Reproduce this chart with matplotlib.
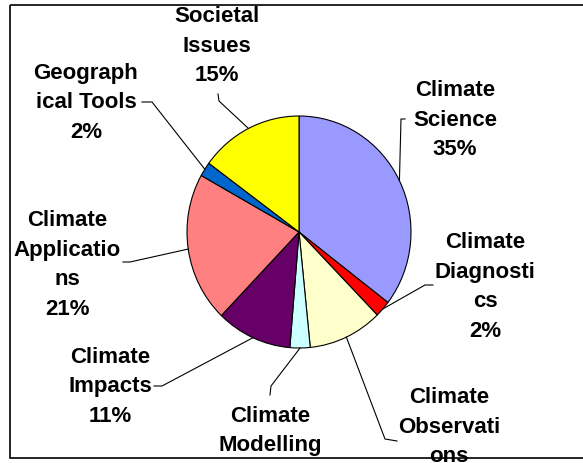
import numpy as np
import matplotlib.pyplot as plt
from matplotlib.patches import Rectangle

plt.rcParams['font.family'] = ['Liberation Sans', 'DejaVu Sans']

# data, clockwise from 12 o'clock
names = ['Climate\nScience', 'Climate\nDiagnosti\ncs', 'Climate\nObservati\nons',
         'Climate\nModelling', 'Climate\nImpacts', 'Climate\nApplicatio\nns',
         'Geograph\nical Tools', 'Societal\nIssues']
values = [35.4, 2.3, 10.7, 2.9, 10.9, 20.9, 2.0, 14.9]
colors = ['#9999FF', '#FF0000', '#FFFFCC', '#CCFFFF', '#660066', '#FF8080', '#0066CC', '#FFFF00']

# label block centres and leader elbows (pixels)
label_xy = [(455, 120), (485, 287), (449, 442), (270, 446),
            (110, 387), (67, 265), (86, 103), (217, 46)]
elbow_xy = [(401, 120), (425, 286), (385, 440), (271, 387),
            (162, 387), (130, 263), (152, 103), (219, 102)]
tick_xy = [(405, 120), (433, 286), (397, 442), (270, 396),
           (154, 387), (123, 263), (142, 103), (218, 95)]

W, H = 583, 464
fig = plt.figure(figsize=(W / 100, H / 100), dpi=100)

# pie, slightly taller than wide like the original
cx, cy, rx, ry = 299, 233, 112, 116
pax = fig.add_axes([(cx - rx) / W, (H - cy - ry) / H, 2 * rx / W, 2 * ry / H])
wedges, _ = pax.pie(values, colors=colors, startangle=90, counterclock=False,
                    wedgeprops=dict(edgecolor='black', linewidth=0.8))
pax.set_aspect('auto')
pax.set_xlim(-1, 1)
pax.set_ylim(-1, 1)

ax = fig.add_axes([0, 0, 1, 1], zorder=3)
ax.set_xlim(0, W)
ax.set_ylim(H, 0)
ax.axis('off')
ax.patch.set_alpha(0)

total = sum(values)
to_px = pax.transData + ax.transData.inverted()
for w, name, v, lxy, exy, txy in zip(wedges, names, values, label_xy, elbow_xy, tick_xy):
    mid = np.deg2rad((w.theta1 + w.theta2) / 2)
    px, py = to_px.transform((np.cos(mid), np.sin(mid)))
    ax.plot([px, exy[0], txy[0]], [py, exy[1], txy[1]], color='black', lw=0.8)
    ax.text(lxy[0], lxy[1], '%s\n%.0f%%' % (name, v / total * 100),
            ha='center', va='center', fontsize=16, fontweight='bold',
            linespacing=1.55)

ax.add_patch(Rectangle((10, 6), 590, 453, fill=False, edgecolor='black',
                       lw=1.2, clip_on=False))

plt.savefig('out.png', dpi=100)
